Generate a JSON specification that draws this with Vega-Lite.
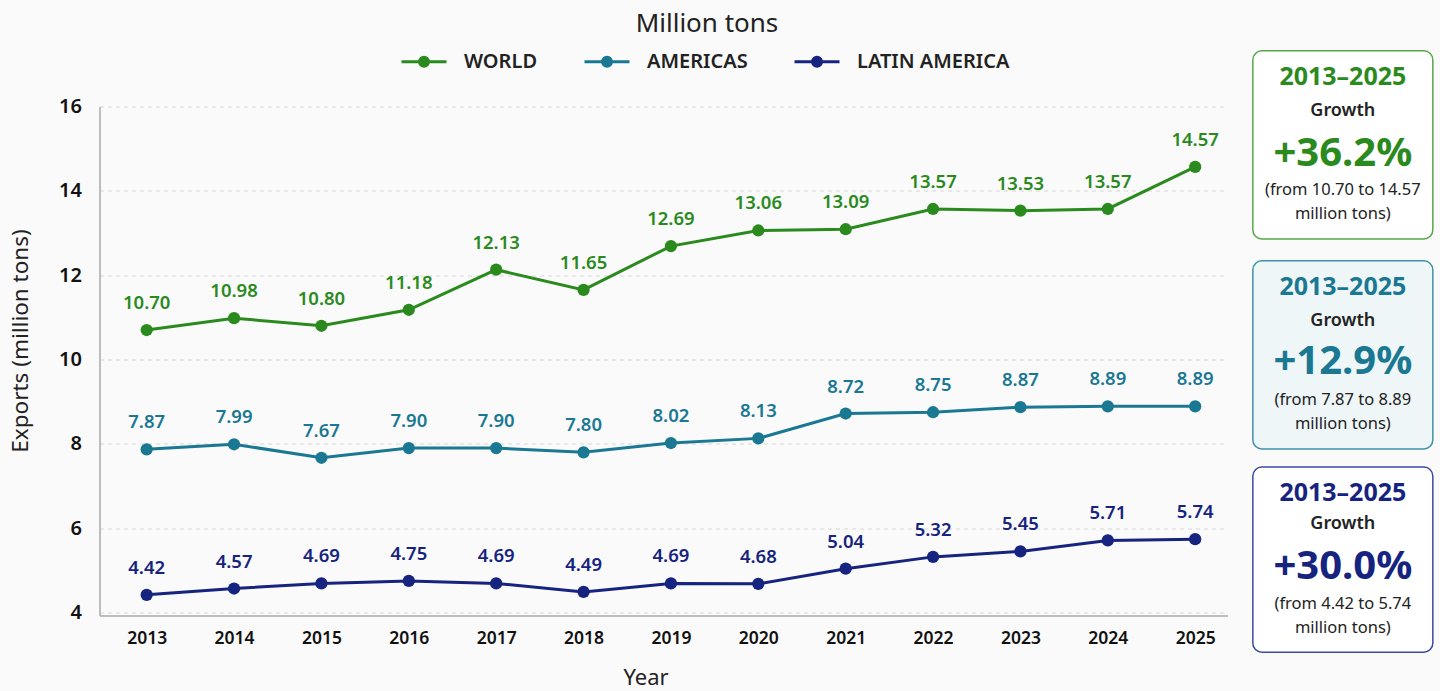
{
  "$schema": "https://vega.github.io/schema/vega-lite/v6.json",
  "width": 1128,
  "height": 509,
  "autosize": {"type": "none"},
  "padding": {"left": 99.5, "top": 106.5, "right": 212.5, "bottom": 75.5},
  "background": "#fafafa",
  "config": {"view": {"stroke": null}, "font": "Noto Sans"},
  "title": {"text": "Million tons", "fontSize": 26, "fontWeight": "normal", "color": "#222222", "anchor": "middle", "frame": "group", "dx": 43.5, "offset": 1},
  "datasets": {
    "series": [
      {"year": 2013, "region": "WORLD", "value": 10.70},
      {"year": 2014, "region": "WORLD", "value": 10.98},
      {"year": 2015, "region": "WORLD", "value": 10.80},
      {"year": 2016, "region": "WORLD", "value": 11.18},
      {"year": 2017, "region": "WORLD", "value": 12.13},
      {"year": 2018, "region": "WORLD", "value": 11.65},
      {"year": 2019, "region": "WORLD", "value": 12.69},
      {"year": 2020, "region": "WORLD", "value": 13.06},
      {"year": 2021, "region": "WORLD", "value": 13.09},
      {"year": 2022, "region": "WORLD", "value": 13.57},
      {"year": 2023, "region": "WORLD", "value": 13.53},
      {"year": 2024, "region": "WORLD", "value": 13.57},
      {"year": 2025, "region": "WORLD", "value": 14.57},
      {"year": 2013, "region": "AMERICAS", "value": 7.87},
      {"year": 2014, "region": "AMERICAS", "value": 7.99},
      {"year": 2015, "region": "AMERICAS", "value": 7.67},
      {"year": 2016, "region": "AMERICAS", "value": 7.90},
      {"year": 2017, "region": "AMERICAS", "value": 7.90},
      {"year": 2018, "region": "AMERICAS", "value": 7.80},
      {"year": 2019, "region": "AMERICAS", "value": 8.02},
      {"year": 2020, "region": "AMERICAS", "value": 8.13},
      {"year": 2021, "region": "AMERICAS", "value": 8.72},
      {"year": 2022, "region": "AMERICAS", "value": 8.75},
      {"year": 2023, "region": "AMERICAS", "value": 8.87},
      {"year": 2024, "region": "AMERICAS", "value": 8.89},
      {"year": 2025, "region": "AMERICAS", "value": 8.89},
      {"year": 2013, "region": "LATIN AMERICA", "value": 4.42},
      {"year": 2014, "region": "LATIN AMERICA", "value": 4.57},
      {"year": 2015, "region": "LATIN AMERICA", "value": 4.69},
      {"year": 2016, "region": "LATIN AMERICA", "value": 4.75},
      {"year": 2017, "region": "LATIN AMERICA", "value": 4.69},
      {"year": 2018, "region": "LATIN AMERICA", "value": 4.49},
      {"year": 2019, "region": "LATIN AMERICA", "value": 4.69},
      {"year": 2020, "region": "LATIN AMERICA", "value": 4.68},
      {"year": 2021, "region": "LATIN AMERICA", "value": 5.04},
      {"year": 2022, "region": "LATIN AMERICA", "value": 5.32},
      {"year": 2023, "region": "LATIN AMERICA", "value": 5.45},
      {"year": 2024, "region": "LATIN AMERICA", "value": 5.71},
      {"year": 2025, "region": "LATIN AMERICA", "value": 5.74}
    ],
    "boxes": [
      {"series": "WORLD", "period": "2013–2025", "label": "Growth", "growth": "+36.2%", "detail1": "(from 10.70 to 14.57", "detail2": "million tons)"},
      {"series": "AMERICAS", "period": "2013–2025", "label": "Growth", "growth": "+12.9%", "detail1": "(from 7.87 to 8.89", "detail2": "million tons)"},
      {"series": "LATIN AMERICA", "period": "2013–2025", "label": "Growth", "growth": "+30.0%", "detail1": "(from 4.42 to 5.74", "detail2": "million tons)"}
    ]
  },
  "layer": [
    {
      "data": {"name": "series"},
      "encoding": {
        "x": {
          "field": "year", "type": "quantitative",
          "scale": {"domain": [2012.46, 2025.37], "nice": false, "zero": false},
          "axis": {
            "values": [2013, 2014, 2015, 2016, 2017, 2018, 2019, 2020, 2021, 2022, 2023, 2024, 2025],
            "format": "d", "title": "Year", "titleX": 546, "titleFontSize": 22, "titleFontWeight": "normal", "titleColor": "#222222", "titlePadding": 20,
            "labelFontSize": 17.5, "labelFontWeight": 600, "labelColor": "#111111", "labelPadding": 14, "labelFlush": false, "labelOverlap": false,
            "ticks": false, "grid": false, "domainColor": "#aaaaaa", "domainWidth": 1.5
          }
        },
        "y": {
          "field": "value", "type": "quantitative",
          "scale": {"domain": [3.93, 16], "nice": false, "zero": false},
          "axis": {
            "values": [4, 6, 8, 10, 12, 14, 16],
            "title": "Exports (million tons)", "titleFontSize": 22.5, "titleFontWeight": "normal", "titleColor": "#222222", "titlePadding": 26, "titleY": 234,
            "labelFontSize": 20, "labelFontWeight": 600, "labelColor": "#111111", "labelPadding": 18, "labelFlush": false,
            "ticks": false, "grid": true, "gridDash": [4, 4], "gridColor": "#d6d6d6", "domainColor": "#aaaaaa", "domainWidth": 1.5
          }
        },
        "color": {
          "field": "region", "type": "nominal",
          "sort": ["WORLD", "AMERICAS", "LATIN AMERICA"],
          "scale": {"domain": ["WORLD", "AMERICAS", "LATIN AMERICA"], "range": ["#2a8a1e", "#1b7892", "#16247f"]},
          "legend": {
            "orient": "none", "legendX": 300.5, "legendY": -69, "direction": "horizontal", "title": null,
            "symbolType": "M-1,0L1,0M-0.2,0A0.2,0.2,0,1,1,0.2,0A0.2,0.2,0,1,1,-0.2,0",
            "symbolSize": 2025, "symbolStrokeWidth": 3, "symbolOpacity": 1,
            "labelFontSize": 20, "labelFontWeight": 600, "labelColor": "#222222", "labelOffset": 16, "columnPadding": 40,
            "encode": {"symbols": {"update": {"fill": {"scale": "color", "field": "value"}, "stroke": {"scale": "color", "field": "value"}}}}
          }
        }
      },
      "layer": [
        {"mark": {"type": "line", "strokeWidth": 3}},
        {"mark": {"type": "circle", "size": 150, "opacity": 1}},
        {"mark": {"type": "text", "dy": -27, "fontSize": 18.5, "fontWeight": 600}, "encoding": {"text": {"field": "value", "type": "quantitative", "format": ".2f"}}}
      ]
    },
    {
      "data": {"name": "boxes"},
      "transform": [{"filter": "datum.series === 'WORLD'"}],
      "encoding": {"x": {"datum": 2026.69, "type": "quantitative"}},
      "layer": [
        {"mark": {"type": "rect", "fill": "#ffffff", "stroke": "#55a847", "strokeWidth": 1.5, "cornerRadius": 9},
         "encoding": {"x": {"datum": 2025.66, "type": "quantitative"}, "x2": {"datum": 2027.72}, "y": {"datum": 17.32, "type": "quantitative"}, "y2": {"datum": 12.86}}},
        {"mark": {"type": "text", "fontSize": 25, "fontWeight": "bold", "fill": "#2a8a1e"}, "encoding": {"y": {"datum": 16.70, "type": "quantitative"}, "text": {"field": "period"}}},
        {"mark": {"type": "text", "fontSize": 18, "fontWeight": 600, "fill": "#222222"}, "encoding": {"y": {"datum": 15.89, "type": "quantitative"}, "text": {"field": "label"}}},
        {"mark": {"type": "text", "fontSize": 40, "fontWeight": "bold", "fill": "#2a8a1e"}, "encoding": {"y": {"datum": 14.88, "type": "quantitative"}, "text": {"field": "growth"}}},
        {"mark": {"type": "text", "fontSize": 16.5, "fill": "#222222"}, "encoding": {"y": {"datum": 14.02, "type": "quantitative"}, "text": {"field": "detail1"}}},
        {"mark": {"type": "text", "fontSize": 16.5, "fill": "#222222"}, "encoding": {"y": {"datum": 13.45, "type": "quantitative"}, "text": {"field": "detail2"}}}
      ]
    },
    {
      "data": {"name": "boxes"},
      "transform": [{"filter": "datum.series === 'AMERICAS'"}],
      "encoding": {"x": {"datum": 2026.69, "type": "quantitative"}},
      "layer": [
        {"mark": {"type": "rect", "fill": "#eef6f8", "stroke": "#3f93a8", "strokeWidth": 1.5, "cornerRadius": 9},
         "encoding": {"x": {"datum": 2025.66, "type": "quantitative"}, "x2": {"datum": 2027.72}, "y": {"datum": 12.34, "type": "quantitative"}, "y2": {"datum": 7.88}}},
        {"mark": {"type": "text", "fontSize": 25, "fontWeight": "bold", "fill": "#1b7892"}, "encoding": {"y": {"datum": 11.72, "type": "quantitative"}, "text": {"field": "period"}}},
        {"mark": {"type": "text", "fontSize": 18, "fontWeight": 600, "fill": "#222222"}, "encoding": {"y": {"datum": 10.91, "type": "quantitative"}, "text": {"field": "label"}}},
        {"mark": {"type": "text", "fontSize": 40, "fontWeight": "bold", "fill": "#1b7892"}, "encoding": {"y": {"datum": 9.95, "type": "quantitative"}, "text": {"field": "growth"}}},
        {"mark": {"type": "text", "fontSize": 16.5, "fill": "#222222"}, "encoding": {"y": {"datum": 9.04, "type": "quantitative"}, "text": {"field": "detail1"}}},
        {"mark": {"type": "text", "fontSize": 16.5, "fill": "#222222"}, "encoding": {"y": {"datum": 8.47, "type": "quantitative"}, "text": {"field": "detail2"}}}
      ]
    },
    {
      "data": {"name": "boxes"},
      "transform": [{"filter": "datum.series === 'LATIN AMERICA'"}],
      "encoding": {"x": {"datum": 2026.69, "type": "quantitative"}},
      "layer": [
        {"mark": {"type": "rect", "fill": "#ffffff", "stroke": "#3a4aa0", "strokeWidth": 1.5, "cornerRadius": 9},
         "encoding": {"x": {"datum": 2025.66, "type": "quantitative"}, "x2": {"datum": 2027.72}, "y": {"datum": 7.45, "type": "quantitative"}, "y2": {"datum": 3.06}}},
        {"mark": {"type": "text", "fontSize": 25, "fontWeight": "bold", "fill": "#16247f"}, "encoding": {"y": {"datum": 6.84, "type": "quantitative"}, "text": {"field": "period"}}},
        {"mark": {"type": "text", "fontSize": 18, "fontWeight": 600, "fill": "#222222"}, "encoding": {"y": {"datum": 6.10, "type": "quantitative"}, "text": {"field": "label"}}},
        {"mark": {"type": "text", "fontSize": 40, "fontWeight": "bold", "fill": "#16247f"}, "encoding": {"y": {"datum": 5.09, "type": "quantitative"}, "text": {"field": "growth"}}},
        {"mark": {"type": "text", "fontSize": 16.5, "fill": "#222222"}, "encoding": {"y": {"datum": 4.20, "type": "quantitative"}, "text": {"field": "detail1"}}},
        {"mark": {"type": "text", "fontSize": 16.5, "fill": "#222222"}, "encoding": {"y": {"datum": 3.63, "type": "quantitative"}, "text": {"field": "detail2"}}}
      ]
    }
  ]
}
